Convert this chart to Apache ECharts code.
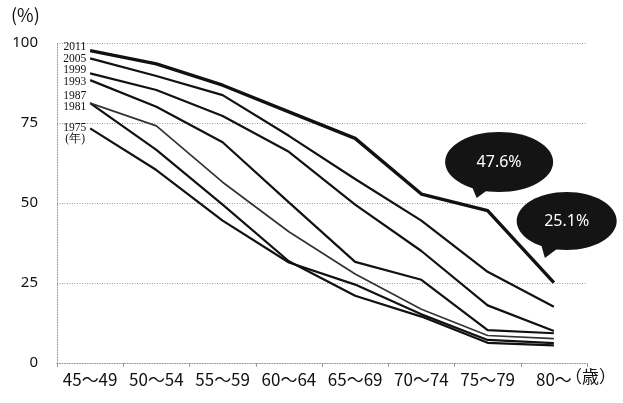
<!DOCTYPE html>
<html>
<head>
<meta charset="utf-8">
<script src="https://cdn.jsdelivr.net/npm/echarts@6/dist/echarts.min.js"></script>
<style>
  html, body { margin: 0; padding: 0; background: #fff; }
  #chart { width: 623px; height: 403px; }
</style>
</head>
<body>
<div id="chart"></div>
<script>
// Age groups on the x axis
const ageGroups = ['45～49', '50～54', '55～59', '60～64', '65～69', '70～74', '75～79', '80～'];

// Survey years, one line each
const surveyYears = ['2011', '2005', '1999', '1993', '1987', '1981', '1975'];

// Rate (%) by age group for each survey year
const rate2011 = [97.6, 93.5, 86.8, 78.5, 70.2, 52.8, 47.6, 25.1];
const rate2005 = [95.2, 89.7, 83.7, 71.0, 57.5, 44.5, 28.5, 17.6];
const rate1999 = [90.5, 85.3, 77.2, 66.0, 49.5, 35.0, 18.0, 10.0];
const rate1993 = [88.4, 80.1, 69.0, 50.2, 31.6, 26.0, 10.3, 9.3];
const rate1987 = [81.2, 74.1, 56.5, 41.0, 27.8, 16.8, 8.6, 7.6];
const rate1981 = [81.2, 66.6, 49.5, 31.8, 21.0, 14.5, 6.3, 5.5];
const rate1975 = [73.3, 60.3, 44.5, 31.4, 24.5, 15.2, 7.2, 6.2];

// Y axis tick values
const yTicks = [0, 25, 50, 75, 100];

const seriesData = [rate2011, rate2005, rate1999, rate1993, rate1987, rate1981, rate1975];

// Per-line drawing style and vertical nudge of its year tag
const lineLook = [
  { width: 3.4, color: '#111', tagDy: -4 },
  { width: 2.2, color: '#111', tagDy: 1 },
  { width: 2.2, color: '#111', tagDy: -3.5 },
  { width: 2.2, color: '#111', tagDy: 1.5 },
  { width: 1.7, color: '#333', tagDy: -7 },
  { width: 2.2, color: '#111', tagDy: 4 },
  { width: 2.2, color: '#111', tagDy: 0 }
];

const chart = echarts.init(document.getElementById('chart'), null, { renderer: 'canvas' });

const gridStroke = { color: '#9a9a9a', type: [1, 1.5], width: 1 };

const series = surveyYears.map((year, i) => ({
  name: year,
  type: 'line',
  data: seriesData[i],
  symbol: 'none',
  smooth: false,
  lineStyle: { width: lineLook[i].width, color: lineLook[i].color },
  z: 10 - i
}));

chart.setOption({
  animation: false,
  backgroundColor: '#fff',
  grid: { left: 57, right: 36, top: 43, bottom: 40, containLabel: false },
  xAxis: {
    type: 'category',
    data: ageGroups,
    boundaryGap: true,
    axisLine: { show: true, lineStyle: gridStroke },
    axisTick: { show: true, length: 4, lineStyle: { color: '#9a9a9a' }, interval: 0 },
    axisLabel: {
      interval: 0,
      margin: 8,
      color: '#111',
      fontSize: 17,
      fontFamily: '"Noto Sans CJK JP", "Noto Sans", sans-serif'
    },
    splitLine: { show: false }
  },
  yAxis: {
    type: 'value',
    min: yTicks[0],
    max: yTicks[yTicks.length - 1],
    interval: yTicks[1] - yTicks[0],
    axisLine: { show: true, lineStyle: gridStroke },
    axisTick: { show: false },
    axisLabel: {
      margin: 19,
      color: '#111',
      fontSize: 15,
      fontFamily: '"Noto Sans", sans-serif'
    },
    splitLine: { show: true, lineStyle: gridStroke }
  },
  series: series
});

const tagFont = '11.5px "Liberation Serif", "DejaVu Serif", serif';

// Year tags just left of each line's first point
const yearTags = [];
surveyYears.forEach((year, i) => {
  const pt = chart.convertToPixel({ gridIndex: 0 }, [0, seriesData[i][0]]);
  yearTags.push({
    type: 'text', x: pt[0] - 4, y: pt[1] + lineLook[i].tagDy, z: 50,
    style: {
      text: year, fill: '#111', font: tagFont,
      align: 'right', verticalAlign: 'middle',
      textAlign: 'right', textVerticalAlign: 'middle'
    }
  });
  if (i === surveyYears.length - 1) {
    yearTags.push({
      type: 'text', x: pt[0] - 15, y: pt[1] + 11, z: 50,
      style: {
        text: '(年)', fill: '#111', font: tagFont,
        align: 'center', verticalAlign: 'middle',
        textAlign: 'center', textVerticalAlign: 'middle'
      }
    });
  }
});

// Speech-bubble callouts anchored to the 2011 line's last two points
function bubble(idx, dx, dy, rx, ry, tail) {
  const value = rate2011[idx];
  const pt = chart.convertToPixel({ gridIndex: 0 }, [idx, value]);
  const cx = pt[0] + dx, cy = pt[1] + dy;
  return [
    { type: 'ellipse', shape: { cx: cx, cy: cy, rx: rx, ry: ry }, style: { fill: '#141414' }, z: 100 },
    { type: 'polygon', shape: { points: tail.map(p => [pt[0] + p[0], pt[1] + p[1]]) }, style: { fill: '#141414' }, z: 100 },
    {
      type: 'text', x: cx, y: cy, z: 101,
      style: {
        text: value.toFixed(1) + '%', fill: '#fff',
        font: '16px "Noto Sans", sans-serif',
        align: 'center', verticalAlign: 'middle',
        textAlign: 'center', textVerticalAlign: 'middle'
      }
    }
  ];
}

const graphics = [].concat(
  yearTags,
  bubble(6, 11.5, -48.7, 54, 30, [[-16, -25], [3, -23], [-11, -12.7]]),
  bubble(7, 12.8, -61.7, 50, 29, [[-13, -39], [6, -36], [-9, -24.7]]),
  [
    {
      type: 'text', left: 11, top: 6,
      style: { text: '(%)', fill: '#111', font: '18px "Noto Sans CJK JP", sans-serif' }
    },
    {
      type: 'text', left: 565, top: 368,
      style: { text: '（歳）', fill: '#111', font: '17px "Noto Sans CJK JP", sans-serif' }
    }
  ]
);

chart.setOption({ graphic: graphics });
</script>
</body>
</html>
